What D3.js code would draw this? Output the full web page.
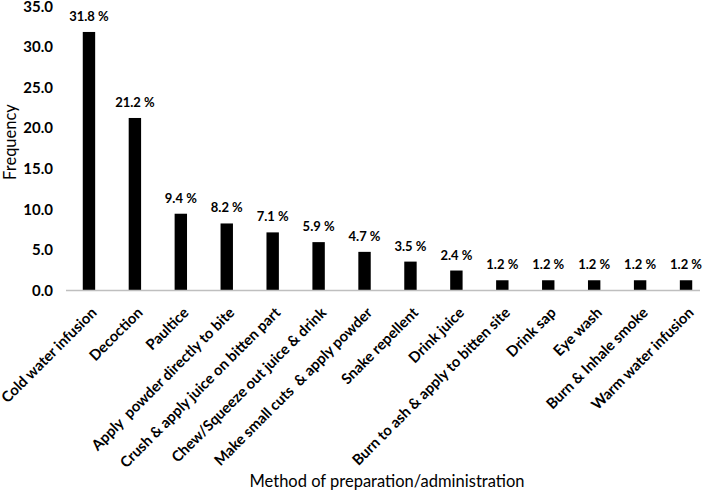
<!DOCTYPE html>
<html>
<head>
<meta charset="utf-8">
<script src="https://cdn.jsdelivr.net/npm/d3@7/dist/d3.min.js"></script>
<style>
body{margin:0;background:#fff;}
text{font-family:"Lato",sans-serif;fill:#000;}
</style>
</head>
<body>
<svg id="c" width="709" height="492"></svg>
<script>
const categories = ["Cold water infusion","Decoction","Paultice","Apply  powder directly to bite","Crush & apply juice on bitten part","Chew/Squeeze out juice & drink","Make small cuts  & apply powder","Snake repellent","Drink juice","Burn to ash & apply to bitten site","Drink sap","Eye wash","Burn & Inhale smoke","Warm water infusion"];
const values = [31.8,21.2,9.4,8.2,7.1,5.9,4.7,3.5,2.4,1.2,1.2,1.2,1.2,1.2];
const yTicks = [0,5,10,15,20,25,30,35];

const svg = d3.select("#c");
const x = d3.scaleBand().domain(categories).range([66,709]).paddingInner(0.73).paddingOuter(0.365);
const y = d3.scaleLinear().domain([0,35]).range([290,6]);

// y axis labels
const ya = svg.append("g").attr("transform","translate(53,0)")
  .call(d3.axisLeft(y).tickValues(yTicks).tickFormat(d3.format(".1f")).tickSize(0).tickPadding(0));
ya.select(".domain").remove();
ya.selectAll("text").style("font-family","Lato").style("font-size","15px").style("font-weight","700").attr("dy","0.35em");

// bars
svg.selectAll("rect.bar").data(values).join("rect")
  .attr("x",(d,i)=>x(categories[i]))
  .attr("width",x.bandwidth())
  .attr("y",d=>y(d))
  .attr("height",d=>y(0)-y(d))
  .attr("fill","#000");

// x axis line
svg.append("line").attr("x1",66).attr("x2",700).attr("y1",y(0)+0.5).attr("y2",y(0)+0.5)
  .attr("stroke","#bfbfbf").attr("stroke-width",1.5);

// value labels
svg.selectAll("text.val").data(values).join("text")
  .attr("class","val")
  .attr("x",(d,i)=>x(categories[i])+x.bandwidth()/2)
  .attr("y",d=>y(d)-11)
  .attr("text-anchor","middle")
  .style("font-size","13px").style("font-weight","700")
  .text(d=>d.toFixed(1)+" %");

// category labels
const xa = svg.append("g").attr("transform",`translate(0,${y(0)})`)
  .call(d3.axisBottom(x).tickSize(0).tickPadding(0));
xa.select(".domain").remove();
xa.selectAll("text")
  .style("font-family","Lato").style("font-size","14.8px").style("font-weight","700")
  .style("white-space","pre")
  .attr("text-anchor","end")
  .attr("transform","translate(5,20) rotate(-45)")
  .attr("x",0).attr("y",0).attr("dy","0.35em");

// axis titles
svg.append("text").attr("x",387).attr("y",487).attr("text-anchor","middle")
  .style("font-size","16.5px").style("font-weight","400").text("Method of preparation/administration");
svg.append("text").attr("transform","translate(16,142) rotate(-90)").attr("text-anchor","middle")
  .style("font-size","16.5px").style("font-weight","400").text("Frequency");
</script>
</body>
</html>
